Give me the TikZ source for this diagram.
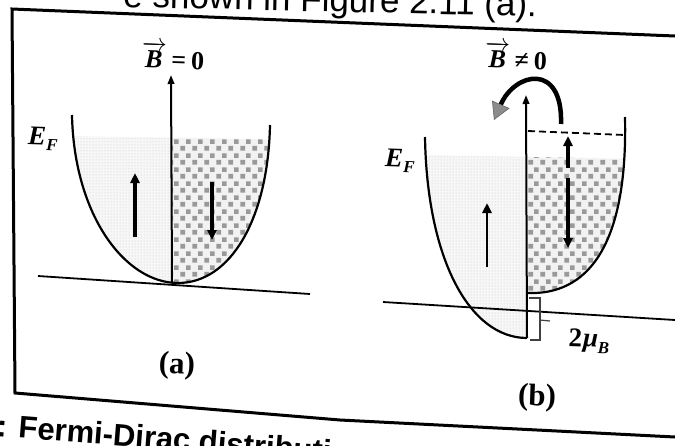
\documentclass[tikz,border=0pt]{standalone}
\usepackage{amsmath}
\usepackage{fontspec}
\newfontfamily\arialfont{Liberation Sans}
\newfontfamily\lsf{Liberation Serif}
\usetikzlibrary{arrows.meta,patterns}
\pgfdeclarepatternformonly{checks}{\pgfqpoint{0pt}{0pt}}{\pgfqpoint{12pt}{14pt}}{\pgfqpoint{12pt}{14pt}}{%
  \pgfpathrectangle{\pgfqpoint{0.5pt}{0.5pt}}{\pgfqpoint{5pt}{5pt}}%
  \pgfpathrectangle{\pgfqpoint{6.5pt}{7.5pt}}{\pgfqpoint{5pt}{5pt}}%
  \pgfusepath{fill}}
\tikzset{
  curve/.style={line width=2.2pt},
  axisarrow/.style={line width=2pt,-{Triangle[length=9pt,width=6.5pt]}},
  spin/.style={line width=3.2pt,-{Triangle[length=10pt,width=9pt]}},
  baseln/.style={line width=1.8pt},
  dotsback/.style={fill=black!3},
  dotsfill/.style={pattern=dots,pattern color=black!22},
  checkback/.style={fill=black!5},
  checkfill/.style={pattern=checks,pattern color=black!40},
  lbl/.style={inner sep=0pt,rotate=-2},
}
\newsavebox\boxBa
\newsavebox\boxBb
\newsavebox\boxEF
\newsavebox\boxMu
\begin{document}
\sbox\boxBa{\lsf\bfseries\fontsize{26}{30}\selectfont$\overrightarrow{\hbox{\itshape B}}$\kern5pt=\kern5pt0}%
\sbox\boxBb{\lsf\bfseries\fontsize{26}{30}\selectfont$\overrightarrow{\hbox{\itshape B}}$\kern5pt≠\kern5pt0}%
\sbox\boxEF{\lsf\bfseries\itshape\fontsize{27}{30}\selectfont E\kern0.5pt\raisebox{-6pt}{\fontsize{17}{19}\selectfont F}}%
\sbox\boxMu{\lsf\bfseries\fontsize{27}{30}\selectfont 2\kern1pt{\itshape μ}\raisebox{-6pt}{\fontsize{17}{19}\selectfont\itshape B}}%
\begin{tikzpicture}[x=1pt,y=-1pt]
\useasboundingbox (0,0) rectangle (675,445);
\clip (0,0) rectangle (675,445);

% surrounding page text
\node[anchor=base west,inner sep=0pt,rotate=-1.3,font=\arialfont\fontsize{35}{40}\selectfont] (toptext) at (123,7) {e shown in Figure 2.11 (a).};
\node[anchor=base west,inner sep=0pt,rotate=-4.5,font=\arialfont\bfseries\fontsize{31}{36}\selectfont] (captext) at (-4,436) {: Fermi-Dirac distribution};

% frame
\draw[line width=3pt] (675,36) -- (12,9) -- (15,393) -- (340,420) -- (675,437);

% ---------------- panel (a) ----------------
\coordinate (aL) at (72,115);
\coordinate (aV) at (178,283);
\coordinate (aR) at (270,125);
\begin{scope}
  \clip (0,135) -- (172,137.5) -- (172,300) -- (0,300) -- cycle;
  \fill[dotsback] (aL) .. controls (74,215) and (125,283) .. (aV) .. controls (230,283) and (268,220) .. (aR) -- cycle;
  \fill[dotsfill] (aL) .. controls (74,215) and (125,283) .. (aV) .. controls (230,283) and (268,220) .. (aR) -- cycle;
\end{scope}
\begin{scope}
  \clip (172,137.5) -- (300,140) -- (300,300) -- (172,300) -- cycle;
  \fill[checkback] (aL) .. controls (74,215) and (125,283) .. (aV) .. controls (230,283) and (268,220) .. (aR) -- cycle;
  \fill[checkfill] (aL) .. controls (74,215) and (125,283) .. (aV) .. controls (230,283) and (268,220) .. (aR) -- cycle;
\end{scope}
\draw[curve] (aL) .. controls (74,215) and (125,283) .. (aV) .. controls (230,283) and (268,220) .. (aR);
\coordinate (aB1) at (38,276);
\coordinate (aB2) at (310,294);
\draw[baseln] (aB1) -- (aB2);
\coordinate (aAx0) at (172,282);
\coordinate (aAx1) at (171,75);
\draw[axisarrow] (aAx0) -- (aAx1);
\coordinate (aU0) at (135,237);
\coordinate (aU1) at (135,173);
\draw[spin] (aU0) -- (aU1);
\coordinate (aD0) at (212,182);
\coordinate (aD1) at (212,240);
\draw[spin] (aD0) -- (aD1);
\node[lbl] (Ba) at (173,56) {\usebox\boxBa};
\node[lbl] (EFa) at (43,139) {\usebox\boxEF};
\node[lbl,font=\lsf\bfseries\fontsize{31}{36}\selectfont] (capa) at (177,366) {(a)};

% ---------------- panel (b) ----------------
\coordinate (bL) at (425,137);
\coordinate (bLV) at (527,338);
\coordinate (bR) at (625,117);
\coordinate (bRV) at (528,293);
\begin{scope}
  \clip (380,154) -- (527,157) -- (527,345) -- (380,345) -- cycle;
  \fill[dotsback] (bL) .. controls (427,260) and (470,338) .. (bLV) -- (527,137) -- cycle;
  \fill[dotsfill] (bL) .. controls (427,260) and (470,338) .. (bLV) -- (527,137) -- cycle;
\end{scope}
\begin{scope}
  \clip (527,157) -- (640,159) -- (640,300) -- (527,300) -- cycle;
  \fill[checkback] (bR) .. controls (628,250) and (585,295) .. (bRV) -- (528,117) -- cycle;
  \fill[checkfill] (bR) .. controls (628,250) and (585,295) .. (bRV) -- (528,117) -- cycle;
\end{scope}
\draw[curve] (bL) .. controls (427,260) and (470,338) .. (bLV);
\draw[curve] (bR) .. controls (628,250) and (585,295) .. (bRV);
\coordinate (bD0) at (528,131);
\coordinate (bD1) at (625,135);
\draw[line width=1.8pt,dash pattern=on 7pt off 4pt] (bD0) -- (bD1);
\coordinate (bB1) at (383,302);
\coordinate (bB2) at (675,320);
\draw[baseln] (bB1) -- (bB2);
\coordinate (bAx1) at (526,95);
\draw[axisarrow] (bLV) -- (bAx1);
% bracket 2 mu_B
\draw[line width=1.2pt,black!75] (529,298) -- (540,298) -- (540,340) -- (530,340);
\draw[line width=1.2pt,black!75] (540,320) -- (550,321);
% spin arrows
\coordinate (bU0) at (487,267);
\coordinate (bU1) at (487,203);
\draw[spin,line width=2.8pt] (bU0) -- (bU1);
\coordinate (bR0) at (568,168);
\coordinate (bR1) at (568,136);
\draw[spin] (bR0) -- (bR1);
\coordinate (bS0) at (568,178);
\coordinate (bS1) at (568,248);
\draw[spin] (bS0) -- (bS1);
% curved arrow
\coordinate (cA0) at (561,124);
\coordinate (cA1) at (494,120);
\draw[line width=4.5pt,-{Triangle[length=17pt,width=19pt,fill=black!45,color=black!60,line width=0.6pt]}]
  (cA0) .. controls (563,62) and (515,72) .. (cA1);
\node[lbl] (Bb) at (516,56) {\usebox\boxBb};
\node[lbl] (EFb) at (400,161) {\usebox\boxEF};
\node[lbl] (muB) at (589,341) {\usebox\boxMu};
\node[lbl,font=\lsf\bfseries\fontsize{31}{36}\selectfont] (capb) at (537,398) {(b)};
\end{tikzpicture}
\end{document}
